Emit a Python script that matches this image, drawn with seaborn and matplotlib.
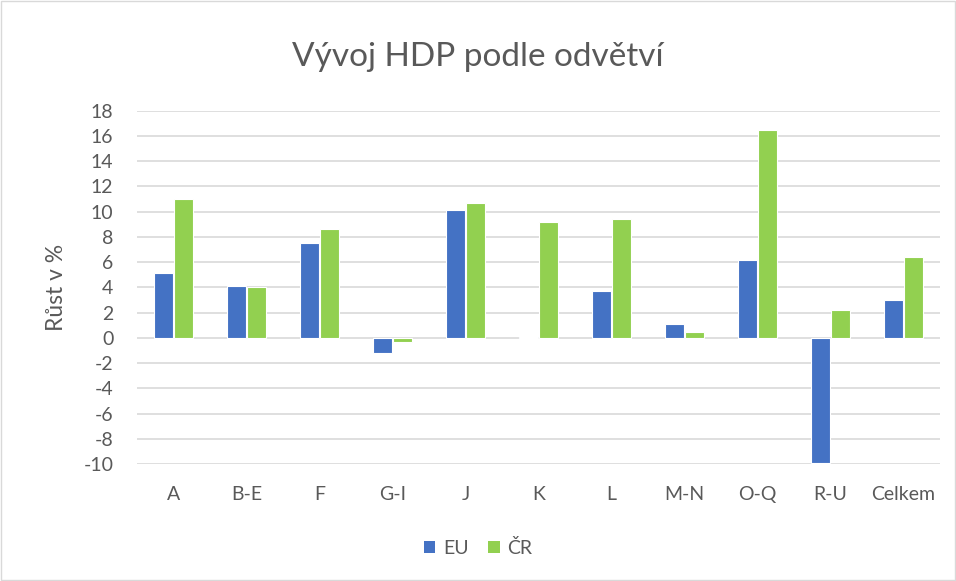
import matplotlib
matplotlib.use("Agg")
import matplotlib.pyplot as plt
import seaborn as sns
import pandas as pd
from matplotlib.patches import Patch, Rectangle

categories = ["A", "B-E", "F", "G-I", "J", "K", "L", "M-N", "O-Q", "R-U", "Celkem"]
eu_values = [5.1, 4.1, 7.5, -1.2, 10.1, 0.1, 3.7, 1.1, 6.2, -9.9, 3.0]
cr_values = [11.0, 4.0, 8.6, -0.3, 10.7, 9.2, 9.4, 0.5, 16.5, 2.2, 6.4]
series_names = ["EU", "ČR"]
yticks = list(range(-10, 19, 2))

df = pd.DataFrame({
    "cat": categories * 2,
    "val": eu_values + cr_values,
    "series": [series_names[0]] * len(categories) + [series_names[1]] * len(categories),
})

sns.set_theme(style="white")
plt.rcParams["font.family"] = ["Lato", "DejaVu Sans"]
plt.rcParams["axes.unicode_minus"] = False
text_color = "#595959"
colors = {"EU": "#4472C4", "ČR": "#92D050"}

fig = plt.figure(figsize=(9.56, 5.81), dpi=100)
ax = fig.add_axes([137 / 956, 1 - 464 / 581, (940 - 137) / 956, (464 - 110.7) / 581])

sns.barplot(data=df, x="cat", y="val", hue="series", palette=colors, ax=ax,
            width=0.54, gap=0.06, edgecolor="white", linewidth=0.8,
            legend=False, saturation=1)

ax.set_ylim(-10, 18)
ax.set_yticks(yticks)
ax.set_xlim(-0.5, len(categories) - 0.5)
ax.yaxis.grid(True, color="#D9D9D9", linewidth=1.2)
ax.set_axisbelow(True)
for s in ax.spines.values():
    s.set_visible(False)
ax.tick_params(axis="both", length=0, colors=text_color, labelsize=14)
ax.tick_params(axis="y", pad=17)
ax.tick_params(axis="x", pad=16)
ax.set_xlabel("")
ax.set_ylabel("Růst v %", color=text_color, fontsize=16.5, labelpad=12)

fig.text(0.5, 1 - 57 / 581, "Vývoj HDP podle odvětví", ha="center", va="center",
         fontsize=24, color=text_color)

handles = [Patch(facecolor=colors[n], edgecolor="none", label=n) for n in series_names]
fig.legend(handles=handles, loc="center", bbox_to_anchor=(0.5, 1 - 548 / 581), ncol=2,
           frameon=False, fontsize=14, handlelength=0.6, handleheight=0.6,
           handletextpad=0.4, columnspacing=1.0, labelcolor=text_color)

fig.patches.append(Rectangle((0.001, 0.001), 0.998, 0.998, transform=fig.transFigure,
                             fill=False, edgecolor="#D9D9D9", linewidth=1))

fig.savefig("out.png", dpi=100)
